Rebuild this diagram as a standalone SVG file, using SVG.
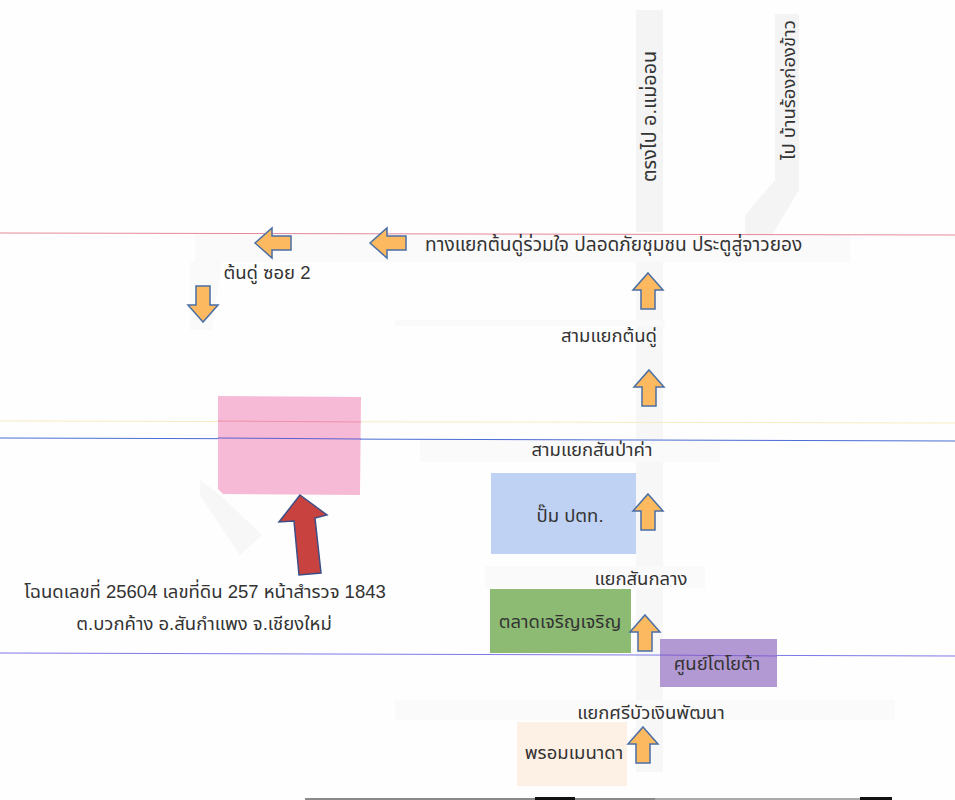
<svg xmlns="http://www.w3.org/2000/svg" width="955" height="800" viewBox="0 0 955 800">
<defs>
<style>
text{font-family:"Liberation Sans","Noto Sans","Noto Sans Thai",sans-serif;font-size:18.5px;fill:#333}
.m{text-anchor:middle}
.road{fill:#f4f4f4}
.faint{fill:#fafafa}
.a{fill:#fdb95f;stroke:#4a6fa5;stroke-width:1.5}
</style>
<path id="up" class="a" d="M0,-18 L15,-1 L7,-1 L7,18 L-7,18 L-7,-1 L-15,-1 Z"/>
</defs>
<rect width="955" height="800" fill="#fefefe"/>
<g id="roads">
<rect class="road" x="636" y="10" width="27" height="222"/>
<rect class="faint" x="636" y="262" width="27" height="510" style="fill:#f7f7f7"/>
<path class="road" d="M775,14 L799,14 L799,190 L772,235 L745,235 L745,215 L775,180 Z"/>
<rect class="faint" x="195" y="234" width="655" height="28"/>
<path class="faint" d="M190,262 L222,262 L212,330 L190,330 Z"/>
<path class="faint" d="M200,480 L220,495 L262,535 L240,555 L200,495 Z" style="fill:#f7f7f7"/>
<rect class="faint" x="395" y="320" width="270" height="6"/>
<rect class="faint" x="420" y="440" width="300" height="22"/>
<rect class="faint" x="485" y="566" width="220" height="22"/>
<rect class="faint" x="395" y="700" width="500" height="20"/>
</g>
<g id="lines" fill="none" stroke-width="1">
<line x1="0" y1="233" x2="955" y2="235" stroke="#e58a9a"/>
<line x1="0" y1="421" x2="955" y2="423" stroke="#f6ecc0"/>
<line x1="0" y1="438" x2="955" y2="441" stroke="#4a6cd4"/>
<line x1="0" y1="653" x2="955" y2="656" stroke="#7d78e6"/>
</g>
<g id="land"><path d="M218,396 L361,397 L360,495 L223,494 L218,489 Z" fill="#f7bad6"/>
<line x1="218" y1="421" x2="361" y2="422" stroke="#ee8fa8"/>
<line x1="218" y1="438" x2="361" y2="439" stroke="#5a5fd0"/></g>
<g id="ptt"><rect x="491" y="473" width="145" height="81" fill="#bfd2f4"/><text class="m" x="570" y="522">ปั๊ม ปตท.</text></g>
<g id="market"><rect x="490" y="589" width="141" height="64" fill="#8dbb73"/><text class="m" x="560" y="628">ตลาดเจริญเจริญ</text></g>
<g id="toyota"><rect x="660" y="639" width="117" height="48" fill="#b399d4"/><line x1="660" y1="655" x2="777" y2="656" stroke="#7d60d0"/><text class="m" x="717" y="670">ศูนย์โตโยต้า</text></g>
<g id="promenada"><rect x="517" y="722" width="110" height="64" fill="#fdf0e4"/><text class="m" x="574" y="759">พรอมเมนาดา</text></g>
<g id="labels">
<text x="425" y="251" style="font-size:19.1px">ทางแยกต้นดู่ร่วมใจ ปลอดภัยชุมชน ประตูสู่จาวยอง</text>
<text class="m" x="267" y="279">ต้นดู่ ซอย 2</text>
<text class="m" x="609" y="342">สามแยกต้นดู่</text>
<text class="m" x="592" y="456">สามแยกสันป่าค่า</text>
<text class="m" x="641" y="585">แยกสันกลาง</text>
<text class="m" x="651" y="719">แยกศรีบัวเงินพัฒนา</text>
<text class="m" x="205" y="598">โฉนดเลขที่ 25604 เลขที่ดิน 257 หน้าสำรวจ 1843</text>
<text class="m" x="204" y="630">ต.บวกค้าง อ.สันกำแพง จ.เชียงใหม่</text>
<text transform="translate(656,182) rotate(-90)" style="font-size:19.8px">ตรงไป อ.แม่ออน</text>
<text transform="translate(795,160) rotate(-90)">ไป บ้านร้องก่องข้าว</text>
</g>
<g id="scan">
<rect x="305" y="798" width="500" height="2" fill="#8a8a8a"/>
<rect x="535" y="797" width="40" height="3" fill="#111"/>
<rect x="655" y="798" width="210" height="2" fill="#aaa"/>
<rect x="725" y="798" width="140" height="2" fill="#aaa"/>
<rect x="860" y="797" width="32" height="3" fill="#111"/>
</g>
<g id="connectors">
<use href="#up" transform="translate(648,291)"/>
<use href="#up" transform="translate(649,388)"/>
<use href="#up" transform="translate(648,512)"/>
<use href="#up" transform="translate(645,633)"/>
<use href="#up" transform="translate(643,745)"/>
<use href="#up" transform="translate(273,243) rotate(-90)"/>
<use href="#up" transform="translate(388,243) rotate(-90)"/>
<use href="#up" transform="translate(203,304) rotate(180)"/>
<path d="M300,495 L327,515 L315,518 L321,573 L299,575 L294,521 L279,522 Z" fill="#c8423f" stroke="#3d4f86" stroke-width="1.5"/>
</g>
</svg>
